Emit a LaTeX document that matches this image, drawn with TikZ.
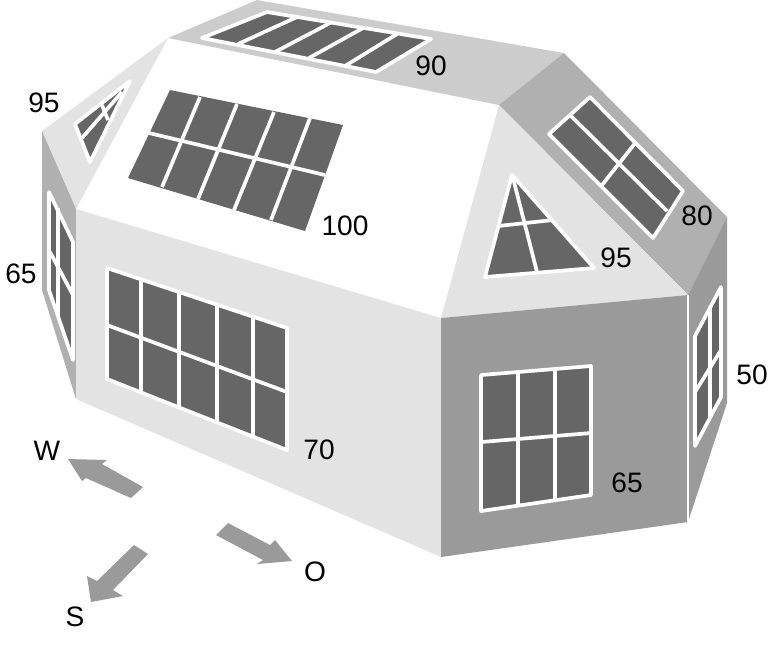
\documentclass[tikz,border=0pt]{standalone}
\usepackage{fontspec}
\setmainfont{Liberation Sans}
\definecolor{facelight}{HTML}{E3E3E3}
\definecolor{facetop}{HTML}{CCCCCC}
\definecolor{faceslope}{HTML}{B0B0B0}
\definecolor{facedark}{HTML}{9A9A9A}
\definecolor{paneglass}{HTML}{666666}
\tikzset{
  glass/.style={fill=paneglass,draw=white,line width=1.05pt,line join=round},
  bar/.style={draw=white,line width=1.05pt},
  value/.style={inner sep=0pt,font=\fontsize{8}{10}\selectfont},
}
\begin{document}
\begin{tikzpicture}[x=0.01cm,y=-0.01cm]
  \useasboundingbox (0,0) rectangle (780,650);
  % faces of the building
  \fill[white] (168,38) -- (499,105) -- (441,318) -- (76,209) -- cycle;
  \fill[facetop] (257,0) -- (564,53) -- (499,105) -- (168,38) -- cycle;
  \fill[faceslope] (564,53) -- (727,217) -- (688,295) -- (499,105) -- cycle;
  \fill[facelight] (499,105) -- (688,295) -- (441,318) -- cycle;
  \fill[facelight] (168,38) -- (76,209) -- (42,131) -- cycle;
  \fill[faceslope] (42,131) -- (76,209) -- (76,399) -- (42,290) -- cycle;
  \fill[facelight] (76,209) -- (441,318) -- (441,557) -- (76,399) -- cycle;
  \fill[facedark] (441,318) -- (688,295) -- (688,522) -- (441,557) -- cycle;
  \fill[facedark] (688,295) -- (727,217) -- (727,403) -- (688,522) -- cycle;
  \draw[white,line width=0.3pt] (688,295) -- (688,522);
  % roof window
  \fill[paneglass] (170,90) -- (343,125) -- (305,231) -- (128,178) -- cycle;
  \foreach \xa/\ya/\xb/\yb in {200/97/162/187, 237/104/198/199, 274/112/234/210, 310/118/271/220, 149/133/325/175}{
    \draw[bar] (\xa,\ya) -- (\xb,\yb);
  }
  % top window
  \draw[glass] (202,38) -- (267,12) -- (431,39) -- (376,72) -- cycle;
  \foreach \xa/\ya/\xb/\yb in {297/17/238/44, 330/23/275/52, 363/28/309/58, 397/34/345/66}{
    \draw[bar] (\xa,\ya) -- (\xb,\yb);
  }
  % slope window
  \draw[glass] (590,97) -- (549,134) -- (653,238) -- (683,191) -- cycle;
  \draw[bar] (571,116) -- (667,211);
  \draw[bar] (636,142) -- (602,185);
  % triangle windows
  \draw[glass] (512,175) -- (485,277) -- (594,268) -- cycle;
  \draw[bar] (513,178) -- (537,272);
  \draw[bar] (498,226) -- (553,220);
  \draw[glass] (130,81) -- (75,124) -- (90,162) -- cycle;
  \draw[bar] (82,138) -- (122,92);
  \draw[bar] (102,105) -- (108,120);
  % wall windows
  \draw[glass] (107,268) -- (287,328) -- (287,450) -- (107,379) -- cycle;
  \foreach \xa/\ya/\xb/\yb in {141/279/141/393, 179/292/179/408, 217/305/217/423, 253/317/253/437, 107/325/287/392}{
    \draw[bar] (\xa,\ya) -- (\xb,\yb);
  }
  \draw[glass] (481,375) -- (591,366) -- (591,495) -- (481,511) -- cycle;
  \foreach \xa/\ya/\xb/\yb in {518/372/518/506, 555/369/555/500, 481/442/591/433}{
    \draw[bar] (\xa,\ya) -- (\xb,\yb);
  }
  % side windows
  \draw[glass] (49,192) -- (73,242) -- (73,360) -- (49,290) -- cycle;
  \draw[bar] (58,208) -- (58,316);
  \draw[bar] (50,252) -- (73,295);
  \draw[glass] (721,287) -- (721,397) -- (695,446) -- (695,336) -- cycle;
  \draw[bar] (710,306) -- (710,417);
  \draw[bar] (695,392) -- (721,350);
  % compass arrows
  \fill[facedark] (143,487) -- (102,464) -- (107,460) -- (68,459) -- (82,481) -- (86,478) -- (131,498) -- cycle;
  \fill[facedark] (228,523) -- (270,545) -- (275,540) -- (292,561) -- (257,564) -- (263,560) -- (216,535) -- cycle;
  \fill[facedark] (134,545) -- (97,581) -- (87,576) -- (91,602) -- (123,596) -- (113,590) -- (148,554) -- cycle;
  % labels
  \node[value] (lblwestcap) at (44,103) {95};
  \node[value] (lblroof) at (345,226) {100};
  \node[value] (lbltop) at (431,66) {90};
  \node[value] (lblslope) at (697,216) {80};
  \node[value] (lbleastcap) at (616,258) {95};
  \node[value] (lblnorth) at (21,274) {65};
  \node[value] (lblsouth) at (627,483) {65};
  \node[value] (lblside) at (752,375) {50};
  \node[value] (lblwest) at (319,450) {70};
  \node[value] (dirw) at (47,451) {W};
  \node[value] (diro) at (315,572) {O};
  \node[value] (dirs) at (75,617) {S};
\end{tikzpicture}
\end{document}
